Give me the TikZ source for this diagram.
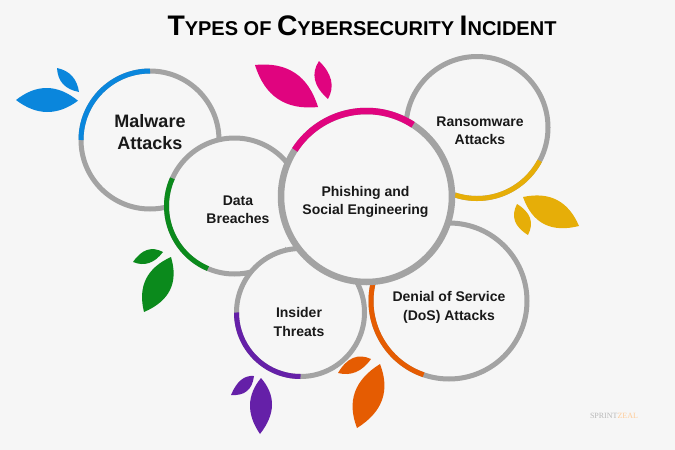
\documentclass[tikz,border=0pt]{standalone}
\usepackage{fontspec}
\setmainfont{Liberation Sans}
\newfontfamily\logofont{Liberation Serif}
\usetikzlibrary{calc}
\definecolor{bg}{HTML}{F6F6F6}
\definecolor{ringgray}{HTML}{A3A3A3}
\definecolor{cblue}{HTML}{0A86DC}
\definecolor{cgreen}{HTML}{0B8A1C}
\definecolor{cmag}{HTML}{E0047F}
\definecolor{cgold}{HTML}{E6AE08}
\definecolor{corange}{HTML}{E55C02}
\definecolor{cpurple}{HTML}{6520A8}
\tikzset{
  x=1pt,y=-1pt,
  ring/.style={circle,draw=ringgray,fill=bg,line width=5pt,inner sep=0pt,outer sep=0pt},
  accent/.style={line width=5pt,line cap=butt},
  labelbig/.style={font=\fontsize{18}{21.5}\selectfont\bfseries,align=center,text=black!90},
  labelmid/.style={font=\fontsize{14}{18.5}\selectfont\bfseries,align=center,text=black!90},
}
\newcommand{\leaf}[5]{\fill[#1] (#2)
  .. controls ($1.3333*(#3)-0.3333*(#4)$) and ($1.3333*(#3)-0.3333*(#2)$) .. (#4)
  .. controls ($1.3333*(#5)-0.3333*(#2)$) and ($1.3333*(#5)-0.3333*(#4)$) .. (#2) -- cycle;}
% centre, radius, start and end angle measured counter-clockwise
\newcommand{\accentarc}[5]{\draw[accent,#1] ($(#2)+({#3*cos(#4)},{-#3*sin(#4)})$) arc[start angle=#4,end angle=#5,radius=#3pt];}
\newcommand{\ttl}[2]{{\fontsize{28.3}{28}\selectfont #1}{\fontsize{20}{28}\selectfont #2}}
\begin{document}
\begin{tikzpicture}
\useasboundingbox (0,0) rectangle (675,450);
\fill[bg] (0,0) rectangle (675,450);
\node[font=\bfseries,anchor=center,inner sep=0pt] (title) at (362,26) {\ttl{T}{YPES OF }\ttl{C}{YBERSECURITY }\ttl{I}{NCIDENT}};
% leaves
\leaf{cblue}{16,100}{47,88}{78,100.7}{47,112}
\leaf{cblue}{57,68}{72,76}{79,92}{63,84}
\leaf{cmag}{255,65}{295,73}{318,107}{278,99}
\leaf{cmag}{319,61}{331,80}{328,99}{315,80}
\leaf{cgold}{523,197}{557,200}{579,226}{544,224}
\leaf{cgold}{517,204}{530,218}{528,235}{515,221}
\leaf{cgreen}{171,257}{170,290}{144,312}{146,279}
\leaf{cgreen}{133,262}{147,250}{163,252}{149,263}
\leaf{cpurple}{261,378}{272,405}{260,434}{250,405}
\leaf{cpurple}{231,395}{241,380}{254,376}{247,391}
\leaf{corange}{380,364}{382,400}{357,428}{355,392}
\leaf{corange}{338,373}{353,358}{371,359}{356,372}
% rings, back to front
\node[ring,minimum size=138pt] (malware) at (150,140) {};
\accentarc{cblue}{malware.center}{69}{90}{180}
\node[ring,minimum size=142pt] (ransom) at (477,127.5) {};
\accentarc{cgold}{ransom.center}{71}{252}{332}
\node[ring,minimum size=156pt] (dos) at (449,301) {};
\accentarc{corange}{dos.center}{78}{168}{251}
\node[ring,minimum size=136pt] (data) at (234.5,206) {};
\accentarc{cgreen}{data.center}{68}{156}{247}
\fill[bg] (292,244) circle[radius=7pt];
\node[ring,minimum size=128pt] (insider) at (300.5,312.5) {};
\accentarc{cpurple}{insider.center}{64}{180}{270}
\node[ring,line width=6.5pt,minimum size=171pt] (phish) at (366.5,196.5) {};
\accentarc{cmag,line width=6.5pt}{phish.center}{85.5}{57}{147}
% labels
\node[labelbig] (t1) at (150,132) {Malware\\Attacks};
\node[labelmid] (t2) at (238,209.5) {Data\\Breaches};
\node[labelmid] (t3) at (365.5,202) {Phishing and\\Social Engineering};
\node[labelmid] (t4) at (480,130.5) {Ransomware\\Attacks};
\node[labelmid] (t5) at (449,307.5) {Denial of Service\\(DoS) Attacks};
\node[labelmid] (t6) at (299,322) {Insider\\Threats};
\node[font=\fontsize{8}{8}\selectfont\logofont,text=black!28,inner sep=0pt] (logo) at (614,416) {SPRINT\textcolor{orange!40}{ZEAL}};
\end{tikzpicture}
\end{document}
